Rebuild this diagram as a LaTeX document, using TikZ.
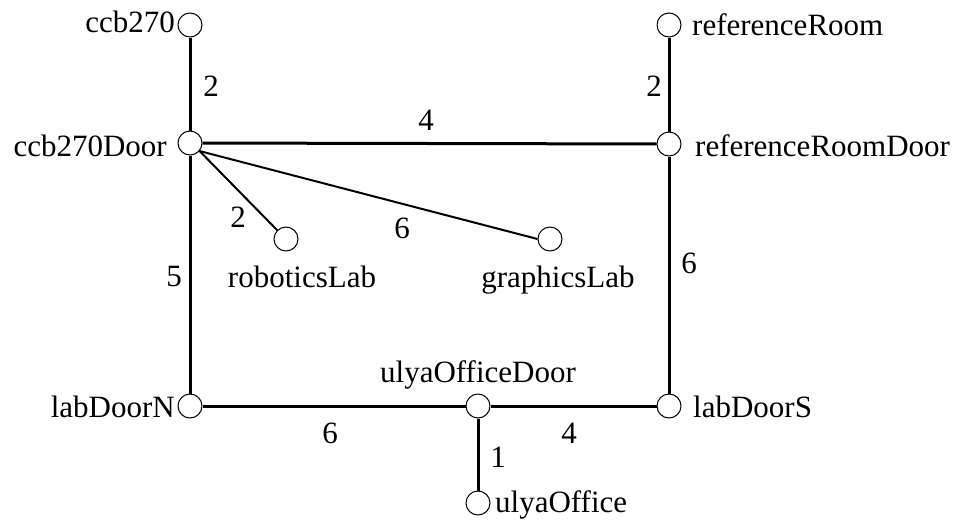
\documentclass[tikz,border=0pt]{standalone}
\usepackage{fontspec}
\setmainfont{Liberation Serif}
\begin{document}
\begin{tikzpicture}[x=1pt,y=-1pt,
  vert/.style={circle,draw,line width=1pt,minimum size=24pt,inner sep=0pt,fill=white},
  lbl/.style={inner sep=0pt,font=\fontsize{31}{36}\selectfont},
  wt/.style={inner sep=0pt,anchor=base,font=\fontsize{31}{36}\selectfont},
  thick edge/.style={line width=3pt},
  thin edge/.style={line width=2pt}]
\useasboundingbox (0,0) rectangle (960,520);
% edges first (nodes drawn over)
\coordinate (pccb270) at (190,25);
\coordinate (pccbDoor) at (190,143);
\coordinate (prefRoom) at (669,25);
\coordinate (prefDoor) at (669,144);
\coordinate (probot) at (286,239);
\coordinate (pgraph) at (550,239);
\coordinate (plabN) at (190,406);
\coordinate (pulyaDoor) at (478,406);
\coordinate (plabS) at (669,406);
\coordinate (pulya) at (478,503);

\node[vert] (ccb270) at (pccb270) {};
\node[vert] (ccb270Door) at (pccbDoor) {};
\node[vert] (referenceRoom) at (prefRoom) {};
\node[vert] (referenceRoomDoor) at (prefDoor) {};
\node[vert] (roboticsLab) at (probot) {};
\node[vert] (graphicsLab) at (pgraph) {};
\node[vert] (labDoorN) at (plabN) {};
\node[vert] (ulyaOfficeDoor) at (pulyaDoor) {};
\node[vert] (labDoorS) at (plabS) {};
\node[vert] (ulyaOffice) at (pulya) {};

\draw[thick edge] (ccb270) -- (ccb270Door);
\draw[thick edge] (ccb270Door) -- (referenceRoomDoor);
\draw[thick edge] (referenceRoom) -- (referenceRoomDoor);
\draw[thick edge] (ccb270Door) -- (labDoorN);
\draw[thick edge] (referenceRoomDoor) -- (labDoorS);
\draw[thick edge] (labDoorN) -- (ulyaOfficeDoor);
\draw[thick edge] (ulyaOfficeDoor) -- (labDoorS);
\draw[thick edge] (ulyaOfficeDoor) -- (ulyaOffice);
\draw[thin edge] (ccb270Door.-40) -- (roboticsLab.135);
\draw[thin edge] (ccb270Door.-40) -- (graphicsLab.west);

% vertex labels
\node[lbl,anchor=base east] (t1) at (175,32) {ccb270};
\node[lbl,anchor=base east] (t2) at (167,156) {ccb270Door};
\node[lbl,anchor=base west] (t3) at (692,35) {referenceRoom};
\node[lbl,anchor=base west] (t4) at (695,156) {referenceRoomDoor};
\node[lbl,anchor=base] (t5) at (302,287) {roboticsLab};
\node[lbl,anchor=base] (t6) at (558,287) {graphicsLab};
\node[lbl,anchor=base east] (t7) at (175,417) {labDoorN};
\node[lbl,anchor=base west] (t8) at (693,417) {labDoorS};
\node[lbl,anchor=base] (t9) at (478,382) {ulyaOfficeDoor};
\node[lbl,anchor=base west] (t10) at (495,512) {ulyaOffice};

% weights
\node[wt] (w1) at (211,96) {2};
\node[wt] (w2) at (426,130) {4};
\node[wt] (w3) at (654,96) {2};
\node[wt] (w4) at (238,227) {2};
\node[wt] (w5) at (402,238) {6};
\node[wt] (w6) at (174,286) {5};
\node[wt] (w7) at (689,273) {6};
\node[wt] (w8) at (330,443) {6};
\node[wt] (w9) at (569,443) {4};
\node[wt] (w10) at (498,467) {1};
\end{tikzpicture}
\end{document}
